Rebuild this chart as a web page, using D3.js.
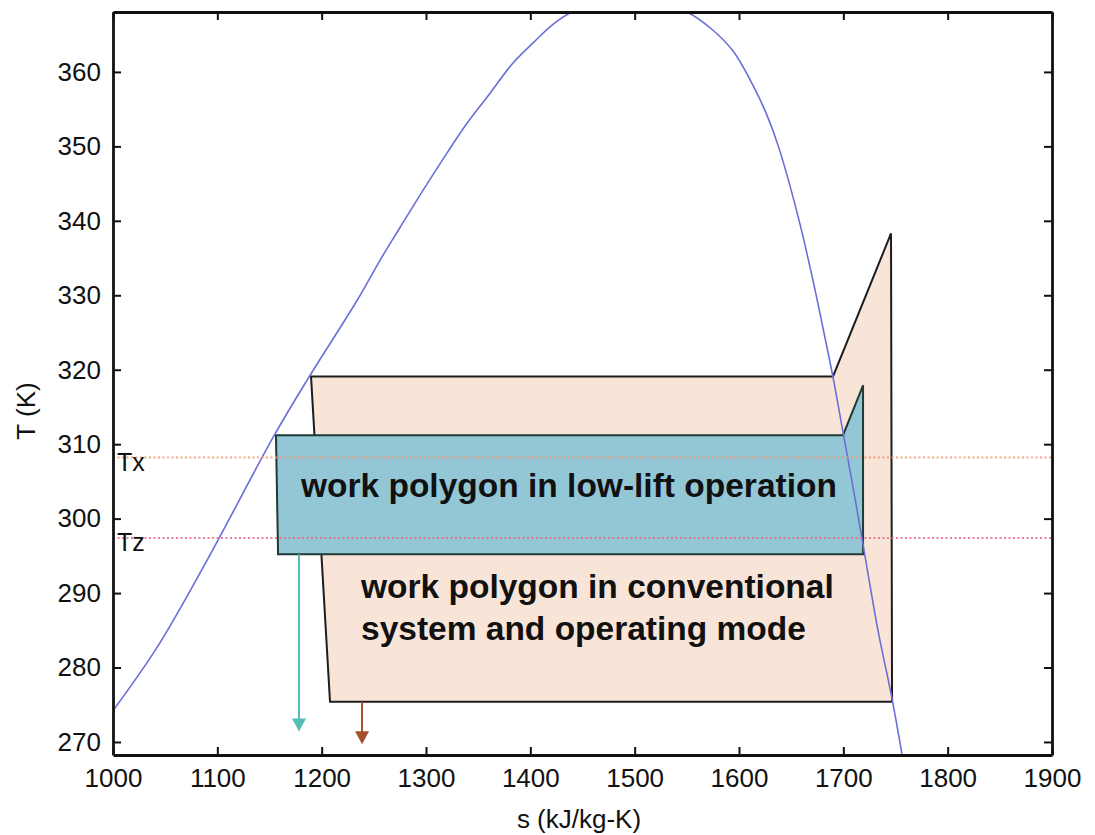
<!DOCTYPE html>
<html>
<head>
<meta charset="utf-8">
<script src="https://cdn.jsdelivr.net/npm/d3@7/dist/d3.min.js"></script>
<style>
  body { margin: 0; background: #fff; }
  svg { display: block; }
  text { font-family: "Liberation Sans", Arial, Helvetica, sans-serif; fill: #111; }
</style>
</head>
<body>
<svg id="chart" width="1095" height="835"></svg>
<script>
// Axis ticks
const sTicks = [1000, 1100, 1200, 1300, 1400, 1500, 1600, 1700, 1800, 1900];
const tTicks = [270, 280, 290, 300, 310, 320, 330, 340, 350, 360];

// Saturated liquid branch of the dome (s in kJ/kg-K, T in K)
const liquidS = [1000.0, 1042.2, 1090.1, 1153.4, 1186.0, 1233.9, 1255.9, 1275.1, 1297.1, 1320.1, 1339.3, 1358.5, 1383.4, 1402.6, 1421.7, 1439.9];
const liquidT = [274.2, 282.7, 294.4, 310.9, 318.6, 329.3, 334.7, 339.1, 344.1, 349.1, 353.1, 356.6, 361.2, 363.9, 366.4, 368.05];
// Critical region above the visible range
const criticalS = [1494.0];
const criticalT = [370.6];
// Saturated vapour branch of the dome
const vaporS = [1550.2, 1575.1, 1594.3, 1613.4, 1626.8, 1638.0, 1656.6, 1670.9, 1680.5, 1690.1, 1699.7, 1709.3, 1717.9, 1722.7, 1733.2, 1746.7, 1756.3, 1758.5];
const vaporT = [368.05, 365.6, 362.8, 358.2, 354.2, 349.9, 340.6, 332.0, 325.6, 319.0, 311.6, 304.2, 297.3, 293.4, 285.0, 275.8, 268.3, 266.5];

// Work polygon, conventional system
const conventionalS = [1189.8, 1690.1, 1745.7, 1746.7, 1208.0];
const conventionalT = [319.1, 319.1, 338.3, 275.4, 275.4];
// Work polygon, low-lift operation
const lowLiftS = [1156.2, 1699.7, 1718.9, 1718.9, 1158.2];
const lowLiftT = [311.2, 311.2, 317.9, 295.2, 295.2];

// Reference temperature levels
const levelNames = ["Tx", "Tz"];
const levelT = [308.2, 297.4];

// Downward arrows from the bottom of each polygon
const arrowS = [1178.3, 1238.7];
const arrowFromT = [295.2, 275.4];
const arrowToT = [271.4, 269.7];
const arrowColors = ["#52bdb6", "#a3502b"];

const svg = d3.select("#chart");
const margin = { left: 113, top: 12, right: 1095 - 1052, bottom: 835 - 755 };
const W = 1095 - margin.left - margin.right;
const H = 835 - margin.top - margin.bottom;

const x = d3.scaleLinear().domain([1000, 1900]).range([0, W]);
const y = d3.scaleLinear().domain([268.25, 368.05]).range([H, 0]);

svg.append("defs").append("clipPath").attr("id", "plotClip")
  .append("rect").attr("width", W).attr("height", H);

const g = svg.append("g").attr("transform", `translate(${margin.left},${margin.top})`);
const plot = g.append("g").attr("clip-path", "url(#plotClip)");

const zip = (a, b) => a.map((v, i) => [v, b[i]]);
const poly = pts => "M" + pts.map(p => `${x(p[0])},${y(p[1])}`).join("L") + "Z";

// Polygons
plot.append("path")
  .attr("d", poly(zip(conventionalS, conventionalT)))
  .attr("fill", "#f8e5d8")
  .attr("stroke", "#1d1d1d")
  .attr("stroke-width", 2)
  .attr("stroke-linejoin", "miter");

plot.append("path")
  .attr("d", poly(zip(lowLiftS, lowLiftT)))
  .attr("fill", "#93c7d6")
  .attr("stroke", "#1f3a34")
  .attr("stroke-width", 2);

// Saturation dome
const domePts = zip(liquidS.concat(criticalS, vaporS), liquidT.concat(criticalT, vaporT));
plot.append("path")
  .attr("d", d3.line().x(d => x(d[0])).y(d => y(d[1])).curve(d3.curveCatmullRom.alpha(0.5))(domePts))
  .attr("fill", "none")
  .attr("stroke", "#6a6fd8")
  .attr("stroke-width", 1.6);

// Temperature levels
const levelColors = ["#f19a6c", "#ec6a86"];
levelT.forEach((t, i) => {
  plot.append("line")
    .attr("x1", 0).attr("x2", W)
    .attr("y1", y(t)).attr("y2", y(t))
    .attr("stroke", levelColors[i])
    .attr("stroke-width", 2)
    .attr("stroke-dasharray", "2,2.5")
    .attr("opacity", 0.85);
  g.append("text")
    .attr("x", 4).attr("y", y(t) + 13)
    .attr("font-size", 25)
    .text(levelNames[i]);
});

// Arrows
arrowS.forEach((s, i) => {
  const x0 = x(s), yTop = y(arrowFromT[i]), yTip = y(arrowToT[i]);
  const head = 13, half = 7;
  plot.append("line")
    .attr("x1", x0).attr("x2", x0)
    .attr("y1", yTop).attr("y2", yTip - head + 1)
    .attr("stroke", arrowColors[i]).attr("stroke-width", 2);
  plot.append("path")
    .attr("d", `M${x0 - half},${yTip - head}L${x0 + half},${yTip - head}L${x0},${yTip}Z`)
    .attr("fill", arrowColors[i]);
});

// Polygon labels
g.append("text")
  .attr("x", x(1437)).attr("y", y(302.86))
  .attr("text-anchor", "middle")
  .attr("font-size", 33.5).attr("font-weight", "bold")
  .text("work polygon in low-lift operation");

const convLabel = g.append("text")
  .attr("x", x(1237.7)).attr("y", y(289.3))
  .attr("font-size", 33.5).attr("font-weight", "bold");
convLabel.append("tspan").text("work polygon in conventional");
convLabel.append("tspan").attr("x", x(1237.7)).attr("dy", 42).text("system and operating mode");

// Axes (box with inward ticks on all sides)
const styleAxis = sel => {
  sel.select(".domain").attr("stroke", "#111").attr("stroke-width", 2.8);
  sel.selectAll(".tick line").attr("stroke", "#111").attr("stroke-width", 2);
  sel.selectAll("text").attr("font-size", 26).attr("fill", "#111")
    .style("font-family", "'Liberation Sans', Arial, sans-serif");
};

g.append("g").attr("transform", `translate(0,${H})`)
  .call(d3.axisBottom(x).tickValues(sTicks).tickSize(-8).tickSizeOuter(0).tickPadding(14).tickFormat(d3.format("d")))
  .call(styleAxis);
g.append("g")
  .call(d3.axisTop(x).tickValues(sTicks).tickSize(-8).tickSizeOuter(0).tickFormat(""))
  .call(styleAxis);
g.append("g")
  .call(d3.axisLeft(y).tickValues(tTicks).tickSize(-8).tickSizeOuter(0).tickPadding(12).tickFormat(d3.format("d")))
  .call(styleAxis);
g.append("g").attr("transform", `translate(${W},0)`)
  .call(d3.axisRight(y).tickValues(tTicks).tickSize(-8).tickSizeOuter(0).tickFormat(""))
  .call(styleAxis);

// Axis titles
svg.append("text")
  .attr("x", 579).attr("y", 828)
  .attr("text-anchor", "middle")
  .attr("font-size", 26)
  .text("s (kJ/kg-K)");
svg.append("text")
  .attr("transform", "translate(35,411) rotate(-90)")
  .attr("text-anchor", "middle")
  .attr("font-size", 26)
  .text("T (K)");
</script>
</body>
</html>
